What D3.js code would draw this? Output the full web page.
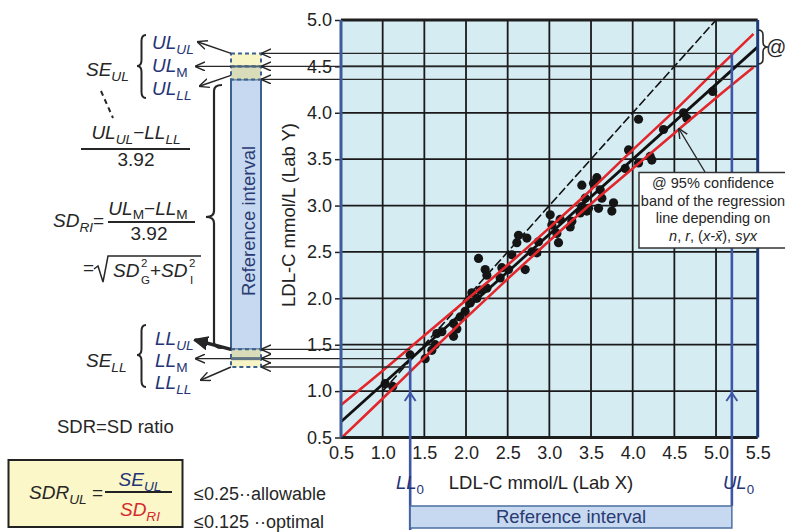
<!DOCTYPE html>
<html><head><meta charset="utf-8">
<script src="https://cdn.jsdelivr.net/npm/d3@7"></script>
<style>body{margin:0;background:#fff}svg{display:block}text{font-family:"Liberation Sans",Arial,sans-serif}</style>
</head><body>
<svg id="c" width="785" height="532"></svg>
<script>
// ---------- data ----------
const xTicks = [0.5,1.0,1.5,2.0,2.5,3.0,3.5,4.0,4.5,5.0,5.5];
const yTicks = [0.5,1.0,1.5,2.0,2.5,3.0,3.5,4.0,4.5,5.0];
const labX = [1.03,1.12,1.33,1.51,1.59,1.63,1.65,1.71,1.85,1.85,1.89,1.93,1.99,2.05,2.07,2.13,2.17,2.25,2.15,2.23,2.25,2.41,2.43,2.51,2.55,2.61,2.63,2.71,2.73,2.79,2.85,2.87,3.01,3.03,3.11,3.09,3.13,3.25,3.27,3.39,3.45,3.39,3.57,3.53,3.61,3.63,3.77,3.75,3.59,3.47,3.37,3.43,3.91,3.95,4.07,4.07,4.21,4.23,4.37,4.61,4.65,4.96];
const labY = [1.08,1.05,1.39,1.35,1.44,1.50,1.62,1.64,1.59,1.73,1.67,1.80,1.86,1.95,2.06,2.00,2.09,2.11,2.43,2.31,2.25,2.22,2.33,2.31,2.47,2.60,2.68,2.31,2.65,2.50,2.49,2.61,2.90,2.79,2.60,2.70,2.85,2.77,2.83,2.99,2.94,3.22,3.30,3.24,3.17,3.08,3.03,2.94,2.97,2.97,2.92,3.08,3.40,3.60,3.46,3.93,3.53,3.49,3.82,4.00,3.94,4.23];
const regressionX = [0.5, 5.5];
const regressionY = [0.67, 4.71];
const identityX = [1.0, 5.0];
const bandX = [0.5,1.0,1.5,2.0,2.5,3.0,3.5,4.0,4.5,5.0,5.45];
const bandUpper = [0.85,1.22,1.60,1.98,2.36,2.76,3.17,3.60,4.02,4.46,4.85];
const bandLower = [0.49,0.92,1.36,1.79,2.21,2.62,3.02,3.40,3.78,4.16,4.49];
const upperLimits = [4.64, 4.50, 4.36];   // UL_UL, UL_M, UL_LL
const lowerLimits = [1.45, 1.35, 1.26];   // LL_UL, LL_M, LL_LL
const refLimitX = [1.33, 5.19];           // LL0, UL0

// ---------- setup ----------
const svg = d3.select('#c');
const x = d3.scaleLinear().domain([0.5,5.5]).range([341,757.7]);
const y = d3.scaleLinear().domain([0.5,5.0]).range([437.5,20]);
const INK = '#262626', NAVY = '#253476', BLUE = '#3d56a6', RED = '#e3262b';

const defs = svg.append('defs');
function marker(id, color, filled, size){
  const m = defs.append('marker').attr('id',id).attr('viewBox','0 -5 10 10')
    .attr('refX',9).attr('refY',0).attr('markerWidth',size).attr('markerHeight',size)
    .attr('markerUnits','userSpaceOnUse').attr('orient','auto');
  m.append('path').attr('d', filled ? 'M0,-4.5L10,0L0,4.5Z' : 'M0,-4.5L10,0L0,4.5')
    .attr('fill', filled ? color : 'none').attr('stroke', color).attr('stroke-width', filled?1:1.4);
}
marker('arr', INK, false, 10);
marker('arrB', INK, true, 14);

function rich(xp, yp, parts, o={}){
  const size = o.size||19;
  const sc = o.scale||0.72;
  const t = svg.append('text').attr('x',xp).attr('y',yp).attr('font-size',size)
    .attr('fill',o.fill||INK).attr('text-anchor',o.anchor||'start');
  if(o.italic) t.attr('font-style','italic');
  let cur = 0;
  parts.forEach(p=>{
    const [s, mode, opt] = p;
    const target = mode==='sub' ? (o.subShift||0.28)*size : mode==='sup' ? -(o.supShift||0.38)*size : 0;
    const ts = t.append('tspan').text(s).attr('dy', target-cur);
    if(mode) ts.attr('font-size', size*sc);
    if(opt && opt.dx) ts.attr('dx', opt.dx);
    if(opt && opt.normal) ts.attr('font-style','normal');
    if(opt && opt.fill) ts.attr('fill', opt.fill);
    cur = target;
  });
  return t;
}
function brace(xt, xe, y0, y1, ym, w){
  const xs = (xt+xe)/2, r = 6;
  svg.append('path').attr('fill','none').attr('stroke',INK).attr('stroke-width',w||2)
    .attr('d',`M${xe},${y0} Q${xs},${y0} ${xs},${y0+r} L${xs},${ym-r} Q${xs},${ym} ${xt},${ym} Q${xs},${ym} ${xs},${ym+r} L${xs},${y1-r} Q${xs},${y1} ${xe},${y1}`);
}

// ---------- plot area ----------
const plot = svg.append('g');
plot.append('rect').attr('x',x(0.5)).attr('y',y(5.0)).attr('width',x(5.5)-x(0.5)).attr('height',y(0.5)-y(5.0)).attr('fill','#d5ecf3');
plot.selectAll('.gx').data(xTicks.slice(1,-1)).join('line')
  .attr('x1',d=>x(d)).attr('x2',d=>x(d)).attr('y1',y(5.0)).attr('y2',y(0.5)).attr('stroke','#1a1a1a').attr('stroke-width',1.8);
plot.selectAll('.gy').data(yTicks.slice(1,-1)).join('line')
  .attr('y1',d=>y(d)).attr('y2',d=>y(d)).attr('x1',x(0.5)).attr('x2',x(5.5)).attr('stroke','#1a1a1a').attr('stroke-width',1.8);

// identity line
plot.append('line').attr('x1',x(identityX[0])).attr('y1',y(identityX[0])).attr('x2',x(identityX[1])).attr('y2',y(identityX[1]))
  .attr('stroke','#111').attr('stroke-width',1.6).attr('stroke-dasharray','9,3');

// points
plot.selectAll('circle').data(labX.map((v,i)=>[v,labY[i]])).join('circle')
  .attr('cx',d=>x(d[0])).attr('cy',d=>y(d[1])).attr('r',4.6).attr('fill','#151515');

// regression
plot.append('line').attr('x1',x(regressionX[0])).attr('y1',y(regressionY[0])).attr('x2',x(regressionX[1])).attr('y2',y(regressionY[1]))
  .attr('stroke','#111').attr('stroke-width',2.8);
// confidence band
const bandLine = d3.line().x(d=>x(d[0])).y(d=>y(d[1])).curve(d3.curveCatmullRom);
[bandUpper, bandLower].forEach(arr=>{
  plot.append('path').attr('d', bandLine(bandX.map((v,i)=>[v,arr[i]])))
    .attr('fill','none').attr('stroke',RED).attr('stroke-width',2.6);
});

// axes
const yAxis = svg.append('g').attr('transform',`translate(${x(0.5)},0)`)
  .call(d3.axisLeft(y).tickValues(yTicks).tickSize(6).tickPadding(3).tickFormat(d3.format('.1f')));
yAxis.select('.domain').remove();
yAxis.selectAll('line').attr('stroke','#222').attr('stroke-width',1.5);
yAxis.selectAll('text').attr('font-size',18).attr('fill','#222').attr('font-family','"Liberation Sans",Arial,sans-serif');
const xAxis = svg.append('g').attr('transform',`translate(0,${y(0.5)})`)
  .call(d3.axisBottom(x).tickValues(xTicks).tickSize(0).tickPadding(9).tickFormat(d3.format('.1f')));
xAxis.select('.domain').remove();
xAxis.selectAll('text').attr('font-size',18).attr('fill','#222').attr('font-family','"Liberation Sans",Arial,sans-serif');

// ---------- reference bar (left) ----------
const bx0 = 231, bx1 = 261;
svg.append('rect').attr('x',bx0).attr('y',y(upperLimits[2])).attr('width',bx1-bx0).attr('height',y(lowerLimits[0])-y(upperLimits[2]))
  .attr('fill','#c6d9f0').attr('stroke','#3c618f').attr('stroke-width',2);
[[upperLimits[0],upperLimits[1],'#f7f5c6'],[upperLimits[1],upperLimits[2],'#d8dcb8'],
 [lowerLimits[0],lowerLimits[1],'#d8dcb8'],[lowerLimits[1],lowerLimits[2],'#f7f5c6']].forEach(([a,b,c])=>{
  svg.append('rect').attr('x',bx0).attr('y',y(a)).attr('width',bx1-bx0).attr('height',y(b)-y(a))
    .attr('fill',c).attr('stroke','#3c618f').attr('stroke-width',2).attr('stroke-dasharray','4,3');
});
svg.append('line').attr('x1',bx0).attr('x2',bx1).attr('y1',y(upperLimits[1])).attr('y2',y(upperLimits[1])).attr('stroke','#4a6278').attr('stroke-width',2);
svg.append('line').attr('x1',bx0).attr('x2',bx1).attr('y1',y(lowerLimits[1])).attr('y2',y(lowerLimits[1])).attr('stroke','#607484').attr('stroke-width',3);
svg.append('text').attr('transform',`translate(255,221) rotate(-90)`).attr('text-anchor','middle')
  .attr('font-size',18.5).attr('fill','#2a3a72').text('Reference interval');

// horizontal lines from limits to bar
upperLimits.forEach(v=>{
  svg.append('line').attr('x1',x(refLimitX[1])).attr('x2',bx1+1).attr('y1',y(v)).attr('y2',y(v))
    .attr('stroke',INK).attr('stroke-width',1.4).attr('marker-end','url(#arr)');
});
lowerLimits.forEach(v=>{
  svg.append('line').attr('x1',x(refLimitX[0])).attr('x2',bx1+1).attr('y1',y(v)).attr('y2',y(v))
    .attr('stroke',INK).attr('stroke-width',1.4).attr('marker-end','url(#arr)');
});

// plot border
svg.append('line').attr('x1',x(0.5)).attr('x2',x(5.5)).attr('y1',y(5.0)).attr('y2',y(5.0)).attr('stroke','#1e1e1e').attr('stroke-width',3);
svg.append('line').attr('x1',x(0.5)).attr('x2',x(5.5)).attr('y1',y(0.5)).attr('y2',y(0.5)).attr('stroke','#1e1e1e').attr('stroke-width',3);
svg.append('line').attr('x1',x(0.5)).attr('x2',x(0.5)).attr('y1',y(5.0)).attr('y2',y(0.5)).attr('stroke','#3a5c9a').attr('stroke-width',3);
svg.append('line').attr('x1',x(5.5)).attr('x2',x(5.5)).attr('y1',y(5.0)).attr('y2',y(0.5)).attr('stroke','#1f3c7a').attr('stroke-width',3);

// arrows from bar to labels
function arrow(x1,y1,x2,y2,thick){
  svg.append('line').attr('x1',x1).attr('y1',y1).attr('x2',x2).attr('y2',y2)
    .attr('stroke',INK).attr('stroke-width',thick?3.5:1.4).attr('marker-end',thick?'url(#arrB)':'url(#arr)');
}
arrow(bx0, y(upperLimits[0]), 198, 42);
arrow(bx0, y(upperLimits[1]), 196, y(upperLimits[1]));
arrow(bx0, y(upperLimits[2])-4, 200, 86);
arrow(bx0, y(lowerLimits[0]), 195, 340, true);
arrow(bx0, y(lowerLimits[1]), 196, y(lowerLimits[1]));
arrow(bx0, y(lowerLimits[2]), 201, 380);

// blue reference limit lines
svg.append('line').attr('x1',x(refLimitX[0])).attr('x2',x(refLimitX[0])).attr('y1',y(lowerLimits[1])).attr('y2',530).attr('stroke',BLUE).attr('stroke-width',2.6);
svg.append('line').attr('x1',x(refLimitX[1])).attr('x2',x(refLimitX[1])).attr('y1',y(upperLimits[0])).attr('y2',506).attr('stroke',BLUE).attr('stroke-width',2.6);
refLimitX.forEach(v=>{
  svg.append('path').attr('d',`M${x(v)-5.5},${401} L${x(v)},${393} L${x(v)+5.5},${401}`).attr('fill','none').attr('stroke',BLUE).attr('stroke-width',2);
});
svg.append('rect').attr('x',x(refLimitX[0])).attr('y',506).attr('width',x(refLimitX[1])-x(refLimitX[0])).attr('height',22)
  .attr('fill','#c6d9f0').attr('stroke','#4a6f9f').attr('stroke-width',1.5);
svg.append('text').attr('x',(x(refLimitX[0])+x(refLimitX[1]))/2).attr('y',523).attr('text-anchor','middle')
  .attr('font-size',18.5).attr('fill','#2a3a72').text('Reference interval');
rich(396, 489, [['LL'],['0','sub',{normal:true}]], {italic:true, fill:NAVY, size:18.5});
rich(723, 489, [['UL'],['0','sub',{normal:true}]], {italic:true, fill:NAVY, size:18.5});

// axis titles
svg.append('text').attr('x',541).attr('y',489).attr('text-anchor','middle').attr('font-size',18.5).attr('fill','#222').text('LDL-C mmol/L (Lab X)');
svg.append('text').attr('transform','translate(295,215) rotate(-90)').attr('text-anchor','middle').attr('font-size',18.5).attr('fill','#222').text('LDL-C mmol/L (Lab Y)');

// ---------- left annotations ----------
rich(86, 76, [['SE'],['UL','sub']], {italic:true});
brace(137, 146, 35, 98, 66, 2);
rich(152, 49, [['UL'],['UL','sub']], {italic:true, fill:NAVY});
rich(152, 72, [['UL'],['M','sub',{normal:true}]], {italic:true, fill:NAVY});
rich(152, 95, [['UL'],['LL','sub']], {italic:true, fill:NAVY});
svg.append('line').attr('x1',101).attr('y1',91).attr('x2',113).attr('y2',118).attr('stroke',INK).attr('stroke-width',2).attr('stroke-dasharray','5,4');
rich(136, 139, [['UL'],['UL','sub'],['\u2212',null,{normal:true}],['LL'],['LL','sub']], {italic:true, anchor:'middle'});
svg.append('line').attr('x1',81).attr('x2',190).attr('y1',149).attr('y2',149).attr('stroke',INK).attr('stroke-width',2);
svg.append('text').attr('x',136).attr('y',166).attr('text-anchor','middle').attr('font-size',19).attr('fill',INK).text('3.92');

brace(206, 222, 85, 348, 217, 2.2);
rich(53, 227, [['SD'],['RI','sub'],['=',null,{normal:true}]], {italic:true});
rich(148, 215, [['UL'],['M','sub',{normal:true}],['\u2212',null,{normal:true}],['LL'],['M','sub',{normal:true}]], {italic:true, anchor:'middle', subShift:0.22});
svg.append('line').attr('x1',108).attr('x2',195).attr('y1',222).attr('y2',222).attr('stroke',INK).attr('stroke-width',2);
svg.append('text').attr('x',149).attr('y',240).attr('text-anchor','middle').attr('font-size',19).attr('fill',INK).text('3.92');
svg.append('text').attr('x',83).attr('y',274).attr('font-size',19).attr('fill',INK).text('=');
svg.append('path').attr('d','M94,269 L98,266 L103,282 L108,256 L201,256').attr('fill','none').attr('stroke',INK).attr('stroke-width',1.5);
// SD_G^2 + SD_I^2 with stacked super/subscripts drawn as separate texts
svg.append('text').attr('x',113).attr('y',277).attr('font-size',19).attr('font-style','italic').attr('fill',INK).text('SD');
svg.append('text').attr('x',141).attr('y',267).attr('font-size',11.5).attr('fill',INK).text('2');
svg.append('text').attr('x',141).attr('y',284).attr('font-size',11.5).attr('fill',INK).text('G');
svg.append('text').attr('x',150).attr('y',277).attr('font-size',19).attr('fill',INK).text('+');
svg.append('text').attr('x',161).attr('y',277).attr('font-size',19).attr('font-style','italic').attr('fill',INK).text('SD');
svg.append('text').attr('x',189).attr('y',267).attr('font-size',11.5).attr('fill',INK).text('2');
svg.append('text').attr('x',190).attr('y',284).attr('font-size',11.5).attr('fill',INK).text('I');

rich(86, 367, [['SE'],['LL','sub']], {italic:true});
brace(137, 146, 325, 387, 355, 2);
rich(155, 345, [['LL'],['UL','sub']], {italic:true, fill:NAVY});
rich(155, 367, [['LL'],['M','sub',{normal:true}]], {italic:true, fill:NAVY});
rich(155, 389, [['LL'],['LL','sub']], {italic:true, fill:NAVY});

svg.append('text').attr('x',57).attr('y',433).attr('font-size',18.5).attr('fill',INK).text('SDR=SD ratio');

// SDR box
svg.append('rect').attr('x',8.5).attr('y',460).attr('width',174).attr('height',67).attr('fill','#fbf7c8').attr('stroke','#222').attr('stroke-width',2);
rich(29, 499, [['SDR'],['UL','sub'],[' =',null,{normal:true}]], {italic:true});
rich(140, 486, [['SE'],['UL','sub']], {italic:true, anchor:'middle', fill:NAVY});
svg.append('line').attr('x1',105).attr('x2',172).attr('y1',492).attr('y2',492).attr('stroke','#222').attr('stroke-width',2.2);
rich(140, 516, [['SD'],['RI','sub']], {italic:true, anchor:'middle', fill:'#d42a2f'});
svg.append('text').attr('x',194).attr('y',500).attr('font-size',18).attr('fill',INK).text('\u22640.25\u00b7\u00b7allowable');
svg.append('text').attr('x',194).attr('y',528).attr('font-size',18).attr('fill',INK).text('\u22640.125 \u00b7\u00b7optimal');

// ---------- right annotations ----------
svg.append('path').attr('fill','none').attr('stroke',INK).attr('stroke-width',1.6)
  .attr('d','M758,30 Q763,30 763,35 L763,42 Q763,47 768,47 Q763,47 763,52 L763,59 Q763,64 758,64');
svg.append('text').attr('x',766).attr('y',54).attr('font-size',20).attr('fill',INK).text('@');
svg.append('rect').attr('x',639).attr('y',172.5).attr('width',170).attr('height',75.5).attr('fill','#fff').attr('stroke','#333').attr('stroke-width',1.5);
arrow(705, 172, 679, 129);
const ann = ['@ 95% confidence','band of the regression','line depending on'];
ann.forEach((s,i)=>svg.append('text').attr('x',713).attr('y',188+i*17.5).attr('text-anchor','middle').attr('font-size',14.5).attr('fill',INK).text(s));
rich(713, 240.5, [['n'],[', ',null,{normal:true}],['r'],[', (',null,{normal:true}],['x-x\u0304'],['), ',null,{normal:true}],['syx']], {italic:true, anchor:'middle', size:14.5});
</script>
</body></html>
